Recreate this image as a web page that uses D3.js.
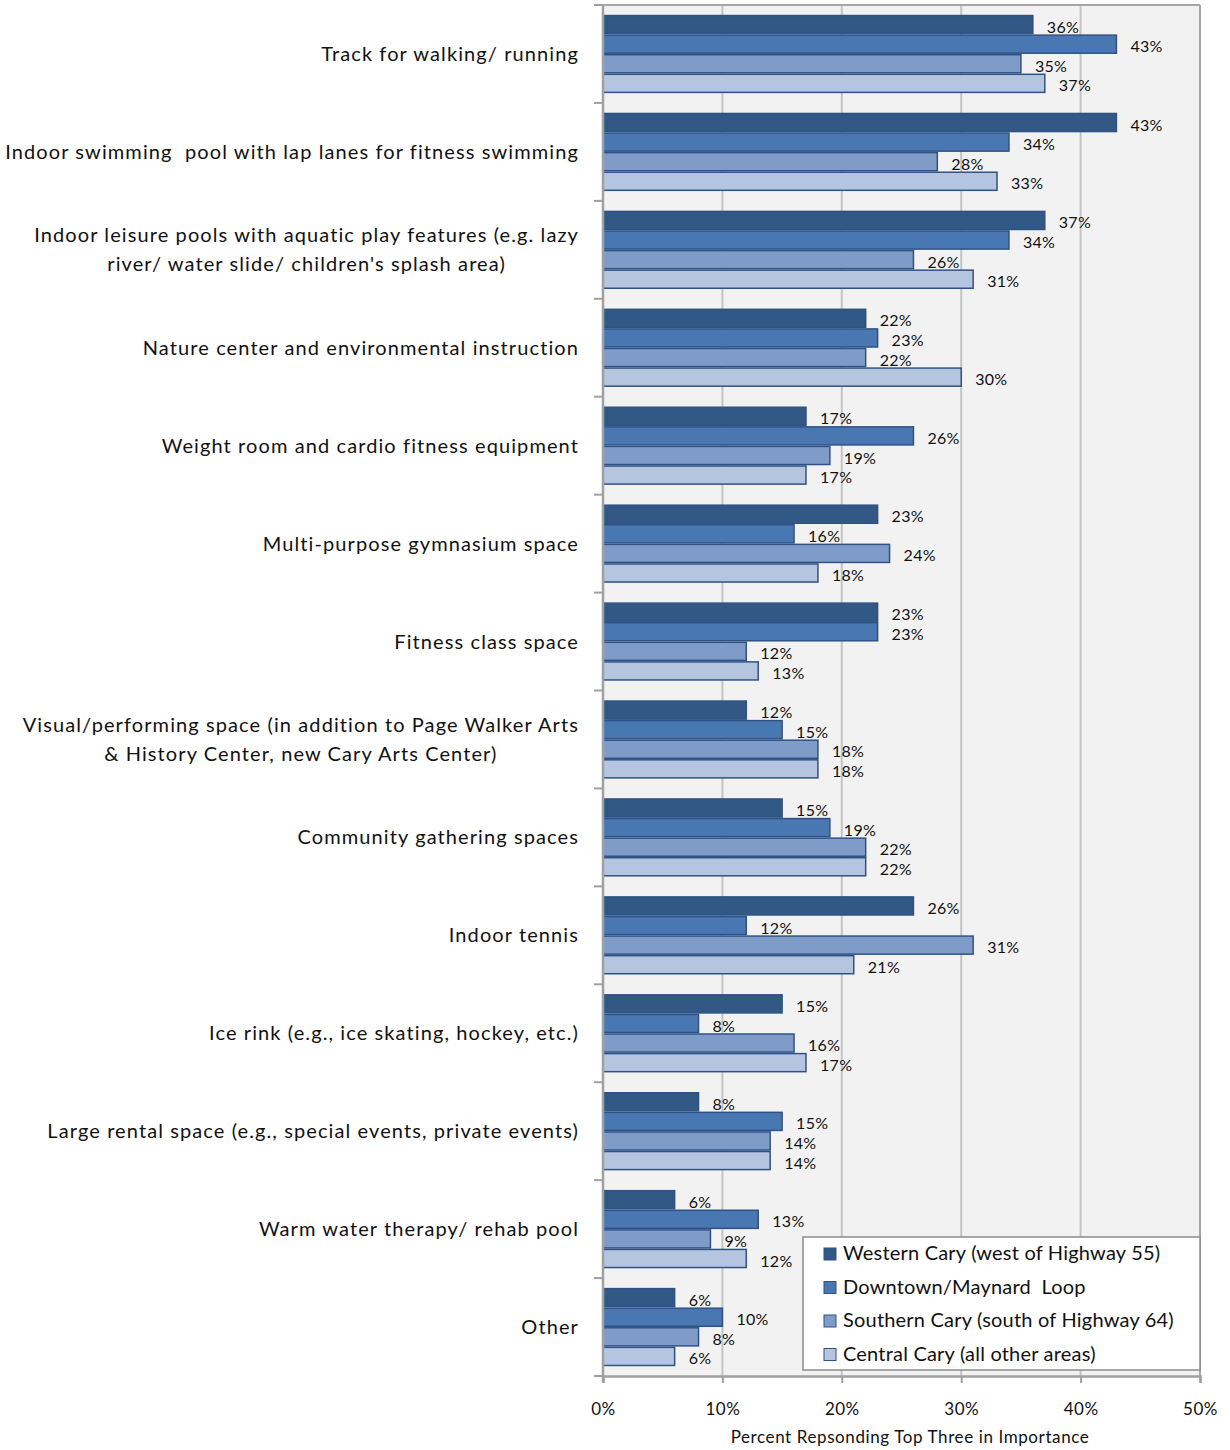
<!DOCTYPE html>
<html>
<head>
<meta charset="utf-8">
<script src="https://cdn.jsdelivr.net/npm/d3@7/dist/d3.min.js"></script>
<style>
  html, body { margin: 0; padding: 0; background: #ffffff; }
  svg { display: block; font-family: Lato, "Open Sans", sans-serif; }
</style>
</head>
<body>
<svg id="chart" width="1230" height="1450"></svg>
<script>
// Facility categories (multi-line labels split with "\n")
const categories = [
  "Track for walking/ running",
  "Indoor swimming  pool with lap lanes for fitness swimming",
  "Indoor leisure pools with aquatic play features (e.g. lazy\nriver/ water slide/ children's splash area)",
  "Nature center and environmental instruction",
  "Weight room and cardio fitness equipment",
  "Multi-purpose gymnasium space",
  "Fitness class space",
  "Visual/performing space (in addition to Page Walker Arts\n& History Center, new Cary Arts Center)",
  "Community gathering spaces",
  "Indoor tennis",
  "Ice rink (e.g., ice skating, hockey, etc.)",
  "Large rental space (e.g., special events, private events)",
  "Warm water therapy/ rehab pool",
  "Other"
];

const seriesNames = [
  "Western Cary (west of Highway 55)",
  "Downtown/Maynard  Loop",
  "Southern Cary (south of Highway 64)",
  "Central Cary (all other areas)"
];

// Percent responding, one array per area
const western  = [36, 43, 37, 22, 17, 23, 23, 12, 15, 26, 15,  8,  6,  6];
const downtown = [43, 34, 34, 23, 26, 16, 23, 15, 19, 12,  8, 15, 13, 10];
const southern = [35, 28, 26, 22, 19, 24, 12, 18, 22, 31, 16, 14,  9,  8];
const central  = [37, 33, 31, 30, 17, 18, 13, 18, 22, 21, 17, 14, 12,  6];

const xTicks = [0, 10, 20, 30, 40, 50];
const axisTitle = "Percent Repsonding Top Three in Importance";

const seriesValues = [western, downtown, southern, central];
const colors = ["#325886", "#4977b1", "#7f9cc8", "#b5c5df"];

const svg = d3.select("#chart");
const plotLeft = 603, plotRight = 1200, plotTop = 5, plotBottom = 1376;

const x = d3.scaleLinear().domain([0, 50]).range([plotLeft, plotRight]);
const y = d3.scaleBand().domain(d3.range(categories.length)).range([plotTop, plotBottom]).paddingInner(0.2).paddingOuter(0.1);
const yBand = d3.scaleBand().domain(d3.range(categories.length)).range([plotTop, plotBottom]);
const ySub = d3.scaleBand().domain(d3.range(seriesNames.length)).range([0, y.bandwidth()]);

// Plot background
svg.append("rect")
  .attr("x", plotLeft).attr("y", plotTop)
  .attr("width", plotRight - plotLeft).attr("height", plotBottom - plotTop)
  .attr("fill", "#f2f2f2");

// Vertical gridlines
svg.append("g").selectAll("line")
  .data(xTicks.slice(1))
  .join("line")
  .attr("x1", d => x(d)).attr("x2", d => x(d))
  .attr("y1", plotTop).attr("y2", plotBottom)
  .attr("stroke", "#c4c4c4").attr("stroke-width", 2);

// Top and right border
svg.append("line")
  .attr("x1", plotLeft).attr("x2", plotRight).attr("y1", plotTop).attr("y2", plotTop)
  .attr("stroke", "#a6a6a6").attr("stroke-width", 2);
svg.append("line")
  .attr("x1", plotRight).attr("x2", plotRight).attr("y1", plotTop).attr("y2", plotBottom)
  .attr("stroke", "#a6a6a6").attr("stroke-width", 2);

// Bars
const groups = svg.append("g").selectAll("g")
  .data(categories.map((c, i) => i))
  .join("g")
  .attr("transform", i => `translate(0,${y(i)})`);

groups.each(function(ci) {
  const g = d3.select(this);
  seriesValues.forEach((vals, si) => {
    const v = vals[ci];
    g.append("rect")
      .attr("x", x(0))
      .attr("y", ySub(si) + 0.75)
      .attr("width", x(v) - x(0))
      .attr("height", ySub.bandwidth() - 1.5)
      .attr("fill", colors[si])
      .attr("stroke", "#2f5286")
      .attr("stroke-width", 1.5);
  });
  seriesValues.forEach((vals, si) => {
    const v = vals[ci];
    g.append("text")
      .attr("x", x(v) + 14)
      .attr("y", ySub(si) + ySub.bandwidth() / 2 + 4)
      .attr("dominant-baseline", "middle")
      .attr("font-size", 16)
      .attr("letter-spacing", 0.3)
      .attr("fill", "#111")
      .text(v + "%");
  });
});

// Left axis with category ticks
const leftAxis = svg.append("g");
leftAxis.append("line")
  .attr("x1", plotLeft).attr("x2", plotLeft).attr("y1", plotTop).attr("y2", plotBottom + 6)
  .attr("stroke", "#a0a0a0").attr("stroke-width", 2.5);
leftAxis.selectAll("line.tick")
  .data(d3.range(categories.length + 1))
  .join("line")
  .attr("class", "tick")
  .attr("x1", plotLeft - 9).attr("x2", plotLeft)
  .attr("y1", i => i < categories.length ? yBand(i) : plotBottom)
  .attr("y2", i => i < categories.length ? yBand(i) : plotBottom)
  .attr("stroke", "#a0a0a0").attr("stroke-width", 2);

// Category labels: block right-aligned, lines centered within block
categories.forEach((label, i) => {
  const lines = label.split("\n");
  const cy = yBand(i) + yBand.bandwidth() / 2 + 2;
  const lh = 29;
  const g = svg.append("g");
  const texts = lines.map((ln, k) => g.append("text")
    .attr("y", cy + (k - (lines.length - 1) / 2) * lh)
    .attr("dominant-baseline", "middle")
    .attr("font-size", 20)
    .attr("letter-spacing", 1.1)
    .attr("fill", "#111")
    .style("white-space", "pre")
    .text(ln));
  const widths = texts.map(t => t.node().getComputedTextLength());
  const maxW = d3.max(widths);
  const cx = 579 - maxW / 2;
  texts.forEach(t => t.attr("x", cx).attr("text-anchor", "middle"));
});

// Bottom axis
const xAxis = d3.axisBottom(x).tickValues(xTicks).tickSize(7).tickFormat(d => d + "%");
const ax = svg.append("g").attr("transform", `translate(0,${plotBottom})`).call(xAxis);
ax.select(".domain").attr("stroke", "#a0a0a0").attr("stroke-width", 2.5);
ax.selectAll(".tick line").attr("stroke", "#a0a0a0").attr("stroke-width", 2);
ax.selectAll(".tick text")
  .attr("y", 34).attr("dy", "0.32em")
  .attr("font-size", 17).attr("letter-spacing", 0.5)
  .attr("font-family", "Lato, 'Open Sans', sans-serif")
  .attr("fill", "#111");

svg.append("text")
  .attr("x", 910).attr("y", 1439)
  .attr("text-anchor", "middle").attr("dominant-baseline", "middle")
  .attr("font-size", 17).attr("letter-spacing", 0.6).attr("fill", "#111")
  .text(axisTitle);

// Legend
const legend = svg.append("g");
legend.append("rect")
  .attr("x", 803).attr("y", 1237).attr("width", 397).attr("height", 133)
  .attr("fill", "#ffffff").attr("stroke", "#8c8c8c").attr("stroke-width", 1.5);
seriesNames.forEach((name, i) => {
  const cy = 1254 + i * 33.5;
  legend.append("rect")
    .attr("x", 824).attr("y", cy - 6).attr("width", 12).attr("height", 12)
    .attr("fill", colors[i]).attr("stroke", "#2f5286").attr("stroke-width", 1);
  legend.append("text")
    .attr("x", 843).attr("y", cy + 1)
    .attr("dominant-baseline", "middle")
    .attr("font-size", 20).attr("letter-spacing", 0.2).attr("fill", "#111")
    .style("white-space", "pre")
    .text(name);
});
</script>
</body>
</html>
